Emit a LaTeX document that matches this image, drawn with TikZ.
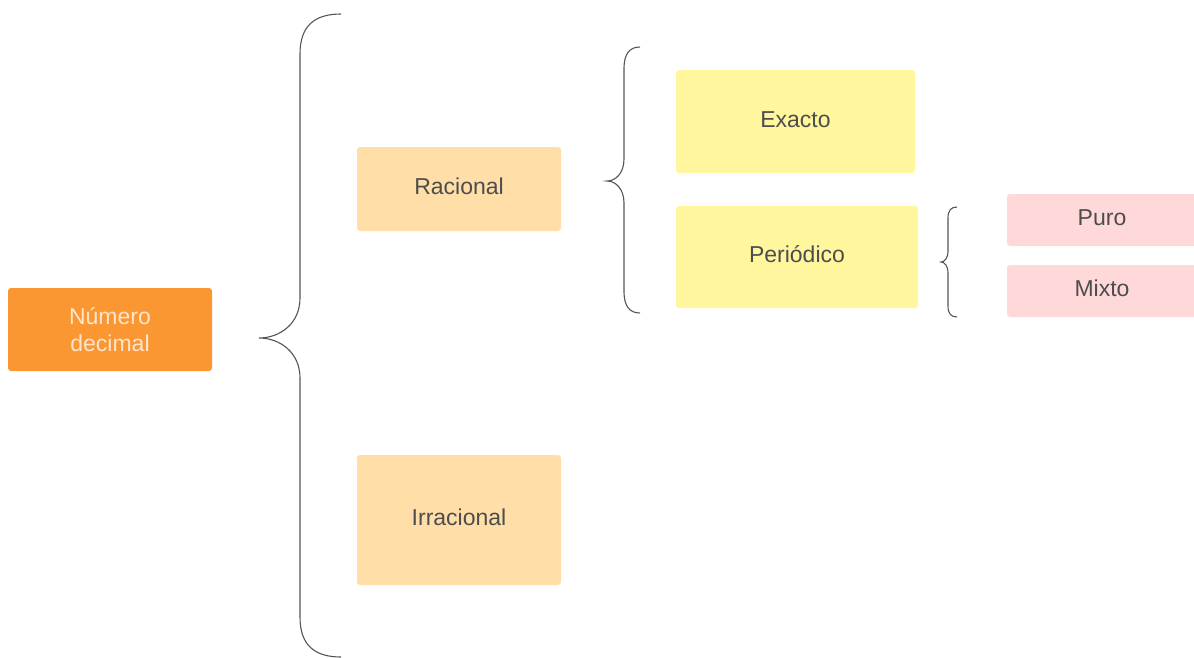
\documentclass[tikz,border=0pt]{standalone}
\usepackage{fontspec}
\setmainfont{Liberation Sans}
\usepackage{xcolor}
\usetikzlibrary{calc}

\definecolor{naranja}{HTML}{FA9733}
\definecolor{melocoton}{HTML}{FFDEA8}
\definecolor{amarillo}{HTML}{FFF69E}
\definecolor{rosa}{HTML}{FFD8DA}
\definecolor{texto}{HTML}{4D4D4D}
\definecolor{llave}{HTML}{555555}

\begin{document}
\begin{tikzpicture}[x=1pt,y=-1pt]
\tikzset{caja/.style={rounded corners=3pt,inner sep=0pt,align=center,
    font=\fontsize{23}{27}\selectfont,text=texto}}
\tikzset{unalinea/.style={caja,text height=17pt,text depth=6pt}}
\tikzset{llavelinea/.style={draw=llave,line width=1.1pt}}

   \useasboundingbox (0,0) rectangle (1194,657);

   % cajas
   \node[caja,fill=naranja,text=orange!20,minimum width=204pt,minimum height=83pt]
      (numero) at (110,329.5) {Número\\decimal};
   \node[unalinea,fill=melocoton,minimum width=204pt,minimum height=84pt]
      (racional) at (459,189) {Racional};
   \node[unalinea,fill=melocoton,minimum width=204pt,minimum height=130pt]
      (irracional) at (459,520) {Irracional};
   \node[unalinea,fill=amarillo,minimum width=239pt,minimum height=103pt]
      (exacto) at (795.5,121.5) {Exacto};
   \node[unalinea,fill=amarillo,minimum width=242pt,minimum height=102pt]
      (periodico) at (797,257) {Periódico};
   \node[unalinea,fill=rosa,minimum width=190pt,minimum height=52pt]
      (puro) at (1102,220) {Puro};
   \node[unalinea,fill=rosa,minimum width=190pt,minimum height=52pt]
      (mixto) at (1102,291) {Mixto};

   % llaves: extremo, linea, punta, arriba, centro, abajo, curva
   \foreach \xe/\xl/\xp/\ya/\yc/\yb/\r in {%
     341/300/259/14/338/657/40,%
     640/624/607/47/181/313/22,%
     957/948/941/207/262/317/11}
     \draw[llavelinea] (\xe,\ya) .. controls (\xl+0.35*\xe-0.35*\xl,\ya) and (\xl,\ya+0.3*\r) .. (\xl,\ya+\r)
        -- (\xl,\yc-\r) .. controls (\xl,\yc-0.35*\r) and (0.5*\xl+0.5*\xp,\yc) .. (\xp,\yc)
        .. controls (0.5*\xl+0.5*\xp,\yc) and (\xl,\yc+0.35*\r) .. (\xl,\yc+\r)
        -- (\xl,\yb-\r) .. controls (\xl,\yb-0.3*\r) and (\xl+0.35*\xe-0.35*\xl,\yb) .. (\xe,\yb);
\end{tikzpicture}
\end{document}
